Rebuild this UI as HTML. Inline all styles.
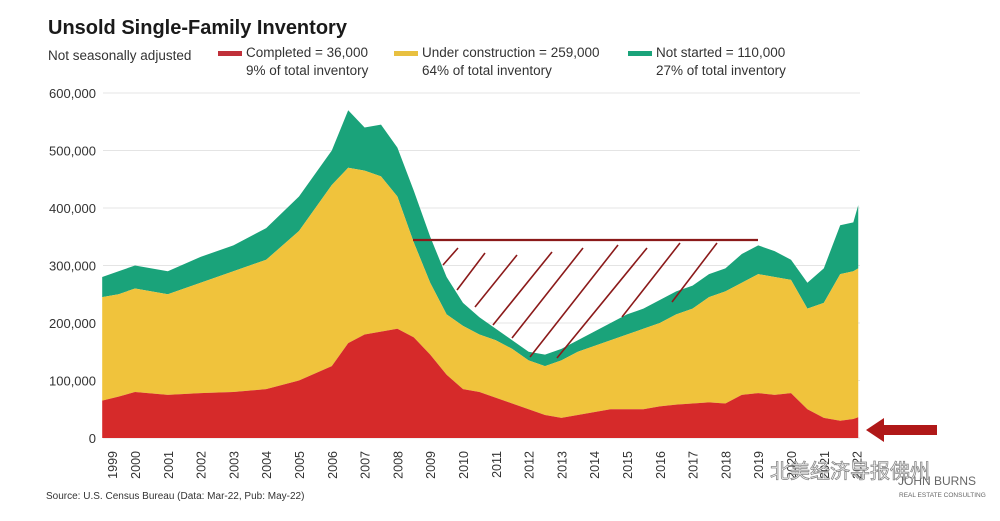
<!DOCTYPE html>
<html><head><meta charset="utf-8"><style>
body{margin:0;background:#fff;width:1000px;height:516px;overflow:hidden;font-family:"Liberation Sans","Noto Sans CJK SC",sans-serif}
</style></head><body>
<svg width="1000" height="516" viewBox="0 0 1000 516">
<text x="48" y="34" font-size="20" font-weight="bold" fill="#1a1a1a">Unsold Single-Family Inventory</text>
<text x="48" y="60" font-size="13.5" fill="#333">Not seasonally adjusted</text>
<g>
<rect x="218" y="51" width="24" height="5" fill="#c0303a"/>
<text x="246" y="57" font-size="13.5" fill="#333">Completed = 36,000</text>
<text x="246" y="75" font-size="13.5" fill="#333">9% of total inventory</text></g>
<g>
<rect x="394" y="51" width="24" height="5" fill="#e8c040"/>
<text x="422" y="57" font-size="13.5" fill="#333">Under construction = 259,000</text>
<text x="422" y="75" font-size="13.5" fill="#333">64% of total inventory</text></g>
<g>
<rect x="628" y="51" width="24" height="5" fill="#1aa37a"/>
<text x="656" y="57" font-size="13.5" fill="#333">Not started = 110,000</text>
<text x="656" y="75" font-size="13.5" fill="#333">27% of total inventory</text></g>
<g id="grid"></g><g id="areas"></g><g id="yaxis"></g><g id="xaxis"></g>
<g stroke="#8b1a1a" stroke-width="1.6">
<line x1="413" y1="240" x2="758" y2="240" stroke-width="2.2"/>
<line x1="443" y1="265" x2="458" y2="248"/><line x1="457" y1="290" x2="485" y2="253"/>
<line x1="475" y1="307" x2="517" y2="255"/><line x1="493" y1="325" x2="552" y2="252"/>
<line x1="512" y1="338" x2="583" y2="248"/><line x1="530" y1="357" x2="618" y2="245"/>
<line x1="557" y1="358" x2="647" y2="248"/><line x1="622" y1="317" x2="680" y2="243"/>
<line x1="672" y1="302" x2="717" y2="243"/></g>
<polygon points="866,430 884,418 884,425 937,425 937,435 884,435 884,442" fill="#b01818"/>
<text x="46" y="499" font-size="10" fill="#333">Source: U.S. Census Bureau (Data: Mar-22, Pub: May-22)</text>
<text x="898" y="485" font-size="12" fill="#666">JOHN BURNS</text>
<text x="899" y="497" font-size="6.5" fill="#666">REAL ESTATE CONSULTING</text>
<text x="770" y="478" font-size="20" fill="#fff" stroke="#888" stroke-width="0.8">北美经济导报佛州</text>
</svg>
<script>
const years=[1999,1999.5,2000,2001,2002,2003,2004,2005,2006,2006.5,2007,2007.5,2008,2008.5,2009,2009.5,2010,2010.5,2011,2011.5,2012,2012.5,2013,2013.5,2014,2014.5,2015,2015.5,2016,2016.5,2017,2017.5,2018,2018.5,2019,2019.5,2020,2020.5,2021,2021.5,2021.9,2022.05];
const completed=[65,72,80,75,78,80,85,100,125,165,180,185,190,175,145,110,85,80,70,60,50,40,35,40,45,50,50,50,55,58,60,62,60,75,78,75,78,50,35,30,33,36];
const underTop=[245,250,260,250,270,290,310,360,440,470,465,455,420,340,270,215,195,180,170,155,135,125,135,150,160,170,180,190,200,215,225,245,255,270,285,280,275,225,235,285,290,295];
const totalTop=[280,290,300,290,315,335,365,420,500,570,540,545,505,430,350,280,235,210,190,170,150,145,155,170,185,200,215,225,240,255,265,285,295,320,335,325,310,270,295,370,375,405];
const yTicks=[0,100000,200000,300000,400000,500000,600000];
const xLabels=[1999,2000,2001,2002,2003,2004,2005,2006,2007,2008,2009,2010,2011,2012,2013,2014,2015,2016,2017,2018,2019,2020,2021,2022];
const NS='http://www.w3.org/2000/svg';
const X=y=>135+(y-2000)*32.8;
const Y=v=>438-v*0.575;
function mk(t,a,p){const e=document.createElementNS(NS,t);for(const k in a)e.setAttribute(k,a[k]);p.appendChild(e);return e;}
const grid=document.getElementById('grid'),yax=document.getElementById('yaxis'),xax=document.getElementById('xaxis'),ar=document.getElementById('areas');
yTicks.forEach(t=>{
 const l=mk('line',{x1:103,x2:860,y1:Y(t/1000),y2:Y(t/1000),stroke:'#e4e4e4','stroke-width':1},grid);
 
 
 const tx=mk('text',{x:96,y:Y(t/1000)+5,'font-size':13,fill:'#333','text-anchor':'end'},yax);
 tx.textContent=t.toLocaleString('en-US');
 
 
});
function area(top,bot,color,name){
 let d='M'+X(years[0])+','+Y(top[0]);
 for(let i=1;i<years.length;i++)d+=' L'+X(years[i])+','+Y(top[i]);
 for(let i=years.length-1;i>=0;i--)d+=' L'+X(years[i])+','+Y(bot?bot[i]:0);
 const p=mk('path',{d:d+'Z',fill:color},ar);
 
 
}
area(totalTop,underTop,'#1aa37a','area-not-started');
area(underTop,completed,'#f0c33c','area-under-construction');
area(completed,null,'#d62a2a','area-completed');
xLabels.forEach((yr,i)=>{
 const x=(i===0?112:X(yr));
 const t=mk('text',{x:0,y:0,'font-size':12.5,fill:'#333','text-anchor':'end',transform:`translate(${x+5},451) rotate(-90)`},xax);
 t.textContent=yr;
 
 
});
</script>
</body></html>
